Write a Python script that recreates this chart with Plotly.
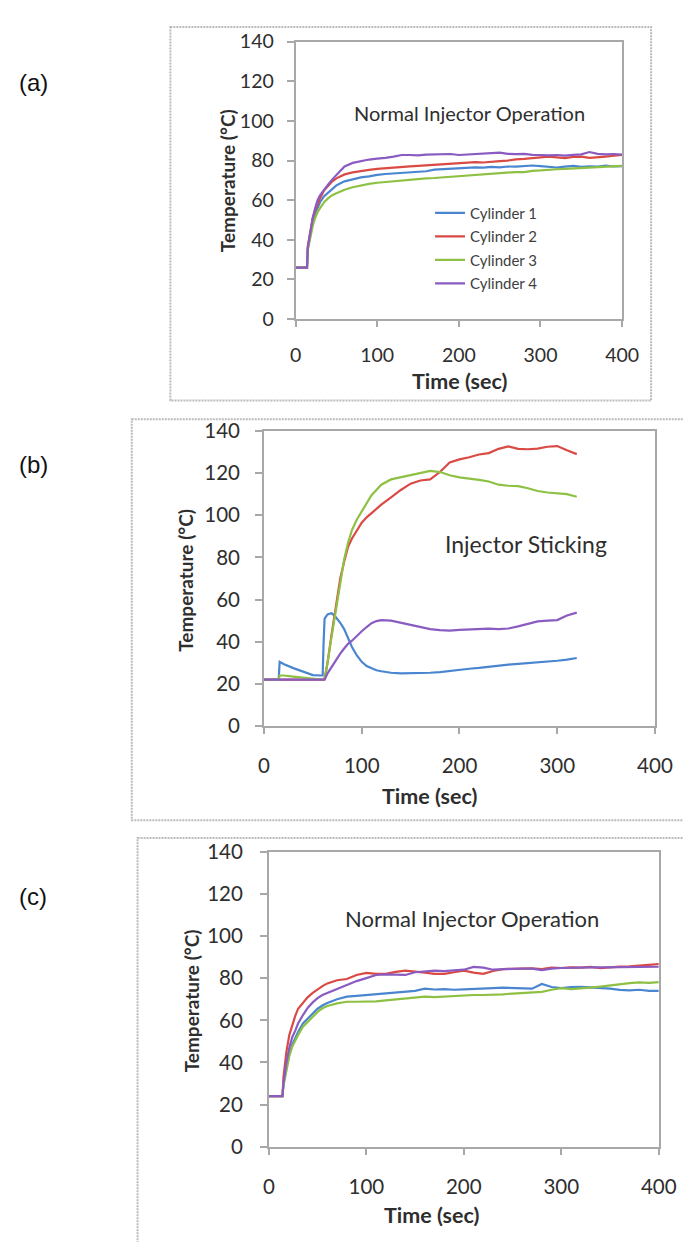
import plotly.graph_objects as go

W, H = 691, 1242

# ---------------- Data ----------------
# Panel (a): Normal injector operation
time_a = [0, 14, 15, 18, 21, 24, 27, 30, 35, 40, 45, 50, 55, 60, 70, 80, 90, 100, 110, 120,
          130, 140, 150, 160, 170, 180, 190, 200, 210, 220, 230, 240, 250, 260, 270, 280,
          290, 300, 310, 320, 330, 340, 350, 360, 370, 380, 390, 400]
cyl1_a = [26, 26, 36, 43, 49, 53, 56, 59, 62, 64, 66, 67.5, 68.5, 69.5, 70.5, 71.5, 72, 72.8, 73.2, 73.5,
          73.6, 74.2, 74.5, 74.6, 75.4, 75.6, 75.8, 76.2, 76.1, 76.5, 76.4, 76.8, 76.6, 77.0, 76.9, 77.3,
          77.5, 77.2, 76.8, 76.5, 76.9, 77.3, 76.8, 77.1, 76.9, 77.4, 77.0, 77.2]
cyl2_a = [26, 26, 37, 45, 51, 55, 58, 61, 65, 67.5, 69.5, 71, 72, 73, 74, 74.8, 75.3, 75.8, 76.2, 76.4,
          76.9, 77.1, 77.3, 77.6, 77.8, 78, 78.4, 78.5, 78.9, 79.2, 79, 79.5, 79.7, 80, 80.6, 80.8,
          81.2, 81.5, 82, 81.6, 81.2, 81.8, 82, 81.3, 81.5, 82.0, 82.4, 82.8]
cyl3_a = [26, 26, 35, 42, 47, 51, 54, 56, 59, 61, 62.5, 63.5, 64.5, 65.3, 66.5, 67.5, 68.2, 68.8, 69.2, 69.6,
          69.8, 70.2, 70.5, 71, 71.2, 71.5, 71.6, 72.2, 72.5, 72.8, 73, 73.3, 73.6, 74, 74.2, 74.2,
          74.8, 75, 75.4, 75.6, 75.8, 76, 76.2, 76.5, 76.6, 76.8, 77.2, 77.3]
cyl4_a = [26, 26, 36, 44, 51, 56, 60, 62.5, 65.5, 68, 70.5, 72.5, 75, 77, 78.8, 79.8, 80.5, 81, 81.3, 82,
          82.8, 82.8, 82.6, 83, 83.1, 82.9, 83.3, 82.8, 83, 83.2, 83.3, 83.6, 84, 83.4, 83.2, 83.4,
          82.9, 82.8, 82.6, 82.8, 82.5, 82.9, 83.1, 84.3, 83.4, 83.1, 83.3, 83.0]

# Panel (b): Injector sticking
time_b = [0, 15, 16, 20, 30, 40, 50, 58, 60, 61, 62, 65, 69, 72, 75, 78, 82, 86, 90, 95, 100, 105,
          110, 115, 120, 130, 140, 150, 160, 170, 180, 190, 200, 210, 220, 230, 240, 250, 260,
          270, 280, 290, 300, 310, 320]
cyl1_b = [22, 22, 30.5, 29.5, 27.5, 25.8, 24.2, 24, 24, 40, 51, 53, 53.5, 52.5, 51, 49, 46, 41.5, 37.5,
          33.5, 30.5, 28.5, 27.3, 26.5, 26, 25.3, 25, 25, 25, 25.3, 25.6, 26.2, 26.8, 27.2, 27.6,
          28.2, 28.8, 29.2, 29.5, 29.8, 30.2, 30.6, 31, 31.5, 32.3]
cyl2_b = [22, 22, 22, 22, 22, 22, 22, 22, 22, 22, 22.5, 30, 43, 52, 61, 70, 78, 85, 89, 93, 96.5, 99,
          101, 103, 105, 108.5, 112, 115, 116.5, 117, 120.5, 125, 126.5, 127.5, 128.8, 129.5, 131.5,
          132.7, 131.5, 131.3, 131.6, 132.5, 132.8, 130.8, 129]
cyl3_b = [22, 22, 24, 24, 23.5, 23, 22.5, 22, 22, 22, 22.5, 30, 42, 51, 60, 68, 79, 87, 93, 98, 102,
          106, 109.5, 112, 114.5, 117, 118, 119, 120, 121, 120.5, 119, 118, 117.5, 116.8, 116,
          114.5, 114, 113.8, 112.8, 111.5, 110.8, 110.5, 110, 108.8]
cyl4_b = [22, 22, 22, 22, 22, 22, 22, 22, 22, 22, 22, 25, 28, 30, 32, 34.4, 36.8, 39, 40.5, 43, 45,
          47, 48.8, 49.8, 50.3, 50, 49, 47.9, 46.8, 46, 45.5, 45.3, 45.6, 45.8, 46, 46.2, 46, 46.3,
          47.3, 48.5, 49.7, 50, 50.3, 52.5, 53.8]

# Panel (c): Normal injector operation
time_c = [0, 14, 15, 18, 21, 24, 27, 30, 35, 40, 45, 50, 55, 60, 70, 80, 90, 100, 110, 120,
          130, 140, 150, 160, 170, 180, 190, 200, 210, 220, 230, 240, 250, 260, 270, 280,
          290, 300, 310, 320, 330, 340, 350, 360, 370, 380, 390, 400]
cyl1_c = [24, 24, 30, 38, 44, 48.5, 51.5, 54.5, 58.5, 61, 63.5, 65.5, 67, 68.2, 70, 71.2, 71.6, 72, 72.5, 73,
          73.3, 73.6, 74, 75, 74.6, 74.8, 74.5, 74.7, 74.8, 75, 75.3, 75.5, 75.4, 75.2, 75, 77.2,
          75.8, 75.3, 75.8, 75.9, 75.7, 75.2, 75, 74.4, 74.2, 74.5, 74, 74]
cyl2_c = [24, 24, 33, 45, 53, 58, 62, 65.5, 68.5, 71, 73, 74.8, 76.2, 77.5, 79, 79.6, 81.5, 82.5, 82, 82,
          83, 83.6, 83.2, 82.6, 82, 82, 82.8, 83.6, 82.6, 82, 83.4, 84.3, 84.4, 84.5, 84.6, 84.3,
          85, 84.8, 85.1, 85, 85.3, 84.8, 85.3, 85.5, 85.6, 85.8, 86.3, 86.7]
cyl3_c = [24, 24, 29, 37, 43, 47.5, 50.5, 53, 57, 59.5, 62, 64, 65.7, 66.8, 68, 68.8, 68.8, 68.8, 69, 69.5,
          70, 70.3, 70.8, 71.2, 71, 71.3, 71.5, 72, 72, 72, 72, 72.3, 72.7, 73, 73.2, 73.5,
          74.5, 75.3, 74.8, 75, 75.5, 76, 76.6, 77.2, 77.6, 78, 77.8, 78.1]
cyl4_c = [24, 24, 30, 40, 47, 52, 55, 58.5, 62.5, 66, 68.5, 70.5, 72, 73, 75, 76.8, 78.6, 80, 81.5, 81.8,
          81.6, 81.5, 82.8, 83.3, 83.6, 83.3, 83.6, 84, 85.3, 85, 84, 84.3, 84.4, 84.5, 84.5, 83.8,
          84.5, 84.8, 85, 85, 85.1, 85.1, 85.2, 85.2, 85.3, 85.3, 85.4, 85.4]

series_names = ["Cylinder 1", "Cylinder 2", "Cylinder 3", "Cylinder 4"]
colors = ["#4A86D0", "#DA4A45", "#8EC044", "#8A5BC0"]

x_ticks = [0, 100, 200, 300, 400]
y_ticks = [0, 20, 40, 60, 80, 100, 120, 140]

FONT = "Lato, 'Open Sans', sans-serif"
TXT = "#2e2e2e"
FRAME = "#A8A8A8"


def px(x):
    return x / W


def py(y):
    return 1 - y / H


fig = go.Figure()

panels = [
    ("", time_a, [cyl1_a, cyl2_a, cyl3_a, cyl4_a], True),
    ("2", time_b, [cyl1_b, cyl2_b, cyl3_b, cyl4_b], False),
    ("3", time_c, [cyl1_c, cyl2_c, cyl3_c, cyl4_c], False),
]
for suffix, t, ser, show in panels:
    for name, vals, col in zip(series_names, ser, colors):
        fig.add_trace(go.Scatter(
            x=t, y=vals, mode="lines", name=name,
            line=dict(color=col, width=2.2),
            xaxis="x" + suffix, yaxis="y" + suffix,
            showlegend=show, legendgroup=name,
        ))

# axis geometry (pixels): x0, x400, y0, y140, tick font size, standoffs
geo = {
    "": (291.7, 630, 304, 21, 19.5, 12, 9),
    "2": (259, 664, 719, 418, 20.5, 14, 11),
    "3": (264, 668, 1148, 847, 20.5, 15, 13),
}
layout_axes = {}
for suffix, (x0, x1, y0, y1, fs, xs, ys) in geo.items():
    xa = "xaxis" + suffix
    ya = "yaxis" + suffix
    layout_axes[xa] = dict(
        domain=[px(x0), px(x1)], range=[0, 400], anchor="y" + suffix,
        tickvals=x_ticks, ticks="outside", ticklen=6, tickcolor=FRAME, tickwidth=1.5,
        showline=True, linecolor=FRAME, linewidth=1.8, mirror=True,
        showgrid=False, zeroline=False, ticklabelstandoff=xs,
        tickfont=dict(family=FONT, size=fs, color=TXT),
    )
    layout_axes[ya] = dict(
        domain=[py(y0), py(y1)], range=[0, 140], anchor="x" + suffix,
        tickvals=y_ticks, ticks="outside", ticklen=7, tickcolor=FRAME, tickwidth=1.5,
        showline=True, linecolor=FRAME, linewidth=1.8, mirror=True,
        showgrid=False, zeroline=False, ticklabelstandoff=ys,
        tickfont=dict(family=FONT, size=fs, color=TXT),
    )

annotations = []


def ann(text, x, y, size, bold=False, angle=0, family=FONT, color=TXT):
    annotations.append(dict(
        text=("<b>%s</b>" % text) if bold else text,
        x=px(x), y=py(y), xref="paper", yref="paper",
        xanchor="center", yanchor="middle", showarrow=False,
        textangle=angle, font=dict(family=family, size=size, color=color),
    ))


# panel labels
ann("(a)", 20, 63, 24, family="Liberation Sans, Arial, sans-serif", color="#111111")
ann("(b)", 20, 452, 24, family="Liberation Sans, Arial, sans-serif", color="#111111")
ann("(c)", 20, 893, 24, family="Liberation Sans, Arial, sans-serif", color="#111111")

# axis titles
ann("Time (sec)", 462, 367, 21.5, bold=True)
ann("Time (sec)", 430, 790, 21.5, bold=True)
ann("Time (sec)", 433, 1218, 21.5, bold=True)
ann("Temperature (°C)", 222, 163, 19, bold=True, angle=-90)
ann("Temperature (°C)", 178, 570, 19, bold=True, angle=-90)
ann("Temperature (°C)", 184, 999, 19, bold=True, angle=-90)

# in-plot labels
ann("Normal Injector Operation", 472, 94, 20)
ann("Injector Sticking", 530, 533, 23)
ann("Normal Injector Operation", 474, 915, 22)

# dotted outer boxes
box_style = dict(color="#BBBBBB", width=2, dash="2px,1px")
shapes = []
for (bx0, by0, bx1, by1) in [(162, 6, 660, 387), (122, 406, 720, 815), (128, 833, 720, 1260)]:
    shapes.append(dict(type="rect", xref="paper", yref="paper",
                       x0=px(bx0), x1=px(bx1), y0=py(by0), y1=py(by1),
                       line=box_style, fillcolor="rgba(0,0,0,0)", layer="below"))

fig.update_layout(
    width=W, height=H,
    margin=dict(l=0, r=0, t=0, b=0),
    paper_bgcolor="white", plot_bgcolor="white",
    showlegend=True,
    legend=dict(
        x=px(431), y=py(179), xanchor="left", yanchor="top",
        bgcolor="rgba(0,0,0,0)", borderwidth=0,
        font=dict(family=FONT, size=15, color="#404040"),
        itemwidth=30, tracegroupgap=1,
    ),
    annotations=annotations,
    shapes=shapes,
    **layout_axes,
)

fig.write_html("out.html")
